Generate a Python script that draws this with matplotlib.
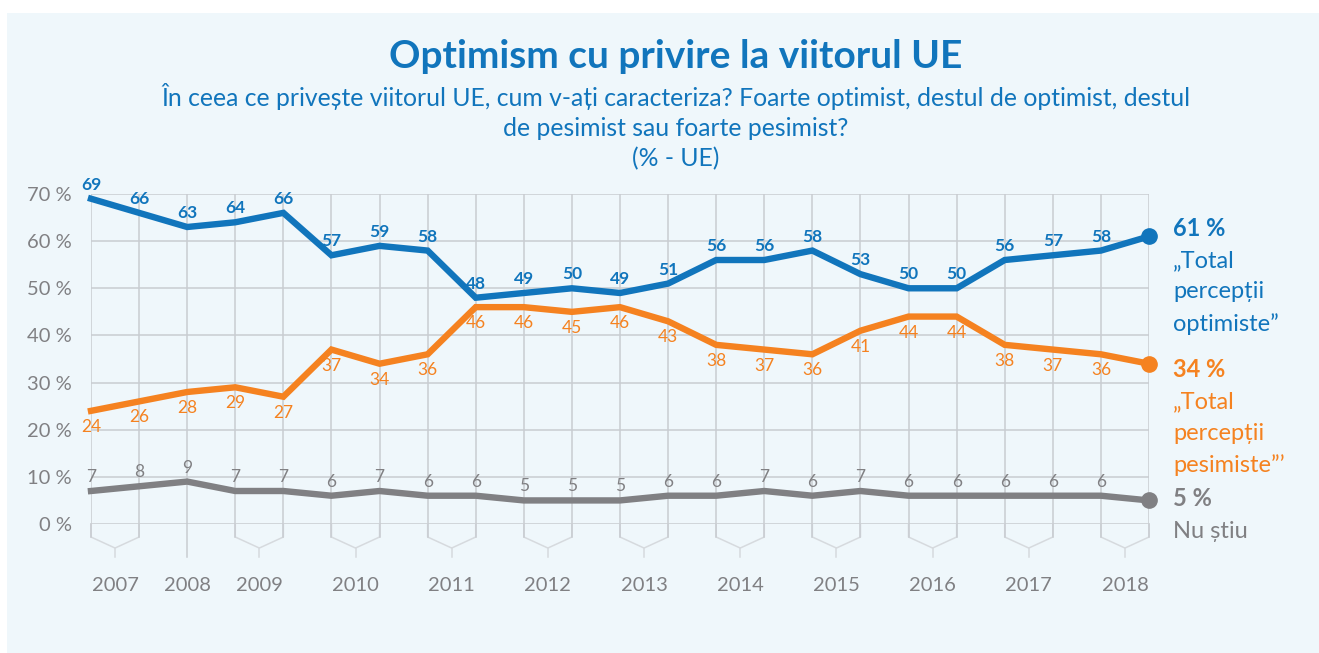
import matplotlib.pyplot as plt
from matplotlib.patches import Rectangle

# one entry per survey wave (Eurobarometer), oldest first
SURVEY_YEAR = [2007, 2007, 2008, 2009, 2009, 2010, 2010, 2011, 2011, 2012, 2012,
               2013, 2013, 2014, 2014, 2015, 2015, 2016, 2016, 2017, 2017, 2018, 2018]
OPTIMIST = [69, 66, 63, 64, 66, 57, 59, 58, 48, 49, 50, 49, 51, 56, 56, 58, 53,
            50, 50, 56, 57, 58, 61]
PESIMIST = [24, 26, 28, 29, 27, 37, 34, 36, 46, 46, 45, 46, 43, 38, 37, 36, 41,
            44, 44, 38, 37, 36, 34]
NU_STIU = [7, 8, 9, 7, 7, 6, 7, 6, 6, 5, 5, 5, 6, 6, 7, 6, 7, 6, 6, 6, 6, 6, 5]
Y_TICKS = [0, 10, 20, 30, 40, 50, 60, 70]

BLUE = "#1175BC"
ORANGE = "#F58220"
GREY = "#808083"
GRID = "#C8CCD1"
BRACKET = "#D6DADE"
BG = "#EFF7FB"

W, H = 1319, 653
plt.rcParams["font.family"] = ["Lato", "DejaVu Sans"]

fig = plt.figure(figsize=(W / 100, H / 100), dpi=100, facecolor="white")
fig.patches.append(Rectangle((7 / W, 0), 1, 1 - 13 / H, transform=fig.transFigure,
                             facecolor=BG, edgecolor="none", zorder=-10))

ax = fig.add_axes([91 / W, 1 - 524 / H, (1149 - 91) / W, (524 - 194) / H])
ax.set_facecolor("none")
for s in ax.spines.values():
    s.set_visible(False)

x = list(range(len(SURVEY_YEAR)))
ax.set_xlim(0, len(x) - 1)
ax.set_ylim(0, 70)

# grid
ax.hlines(Y_TICKS, 0, len(x) - 1, color=GRID, lw=1.1, zorder=1)
ax.vlines(x, 0, 70, color=GRID, lw=1.1, zorder=1)

# year brackets below the zero line
years = sorted(set(SURVEY_YEAR))
centers = []
for yr in years:
    idx = [i for i, v in enumerate(SURVEY_YEAR) if v == yr]
    a, b = idx[0], idx[-1]
    c = (a + b) / 2
    centers.append(c)
    if a == b:
        ax.plot([a, a], [0, -7], color=GRID, lw=1.1, clip_on=False)
    else:
        ax.plot([a, a, c, b, b], [0, -2.76, -5.1, -2.76, 0], color=BRACKET,
                lw=1.1, clip_on=False)
        ax.plot([a, a], [0, -2.76], color=GRID, lw=1.1, clip_on=False)
        ax.plot([b, b], [0, -2.76], color=GRID, lw=1.1, clip_on=False)
        ax.plot([c, c], [-5.1, -7], color=BRACKET, lw=1.1, clip_on=False)

ax.set_xticks(centers)
ax.set_xticklabels([str(y) for y in years], color=GREY, fontsize=14.5)
ax.tick_params(axis="x", length=0, pad=38)
ax.set_yticks(Y_TICKS)
ax.set_yticklabels([f"{v} %" for v in Y_TICKS], color=GREY, fontsize=14.5)
ax.tick_params(axis="y", length=0, pad=14)

series = [
    (OPTIMIST, BLUE, 14, "bold"),
    (PESIMIST, ORANGE, -16, "normal"),
    (NU_STIU, GREY, 14, "normal"),
]
for vals, col, off, wt in series:
    ax.plot(x, vals, color=col, lw=4.6, solid_joinstyle="miter", zorder=3,
            clip_on=False)
    ax.plot(x[-1], vals[-1], "o", color=col, ms=11, zorder=4, clip_on=False)
    for xi, v in zip(x[:-1], vals[:-1]):
        ax.annotate(str(v), (xi, v), xytext=(0, off), textcoords="offset pixels",
                    ha="center", va="center", color=col, fontsize=12.5,
                    fontweight=wt, zorder=5)

# right-hand labels
def side(ypix, txt, col, bold=False):
    fig.text(1173 / W, 1 - ypix / H, txt, color=col, fontsize=17,
             fontweight="bold" if bold else "normal", ha="left", va="center")

side(228, f"{OPTIMIST[-1]} %", BLUE, True)
for yp, t in zip([261, 292, 324], ["„Total", "percepții", "optimiste”"]):
    side(yp, t, BLUE)
side(369, f"{PESIMIST[-1]} %", ORANGE, True)
for yp, t in zip([402, 433, 465], ["„Total", "percepții", "pesimiste”’"]):
    side(yp, t, ORANGE)
side(499, f"{NU_STIU[-1]} %", GREY, True)
side(532, "Nu știu", GREY)

# titles
cx = 676 / W
fig.text(cx, 1 - 56 / H, "Optimism cu privire la viitorul UE", color=BLUE,
         fontsize=28, fontweight="bold", ha="center", va="center")
fig.text(cx, 1 - 97 / H,
         "În ceea ce privește viitorul UE, cum v-ați caracteriza? Foarte optimist, destul de optimist, destul",
         color=BLUE, fontsize=17.8, ha="center", va="center")
fig.text(cx, 1 - 129 / H, "de pesimist sau foarte pesimist?", color=BLUE,
         fontsize=17.8, ha="center", va="center")
fig.text(cx, 1 - 159 / H, "(% - UE)", color=BLUE, fontsize=17.8,
         ha="center", va="center")

fig.savefig("out.png", dpi=100, facecolor="white")
